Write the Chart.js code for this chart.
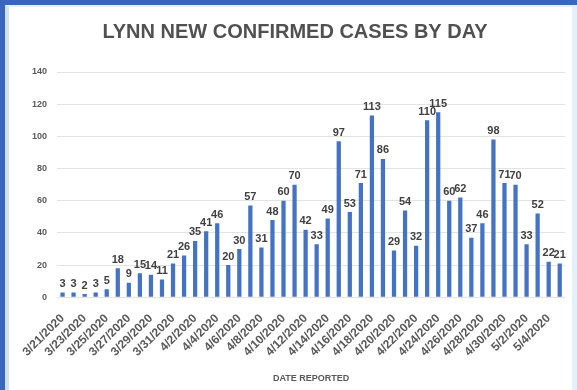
<!DOCTYPE html>
<html>
<head>
<meta charset="utf-8">
<script src="https://cdn.jsdelivr.net/npm/chart.js@4/dist/chart.umd.min.js"></script>
<style>
  html, body { margin: 0; padding: 0; background: #ffffff; }
  #frame {
    position: absolute; left: 0; top: 0; width: 577px; height: 390px;
    box-sizing: border-box;
    border-left: 5px solid #3b66c0;
    border-top: 5px solid #3b66c0;
    background: #ffffff;
  }
  #inner {
    position: absolute; left: 0; top: 0; right: 0; bottom: 0;
    border-left: 4px solid #cfe3f5;
    border-top: 2px solid #e4f0fa;
    border-right: 5px solid #e6f0fa;
  }
  #wrap { position: absolute; left: 4px; top: 2px; width: 563px; height: 383px; }
</style>
</head>
<body>
<div id="frame"><div id="inner"><div id="wrap"><canvas id="c"></canvas></div></div></div>
<script>
// Daily report dates, 3/21/2020 through 5/5/2020
const dates = [
  "3/21/2020","3/22/2020","3/23/2020","3/24/2020","3/25/2020","3/26/2020","3/27/2020",
  "3/28/2020","3/29/2020","3/30/2020","3/31/2020","4/1/2020","4/2/2020","4/3/2020",
  "4/4/2020","4/5/2020","4/6/2020","4/7/2020","4/8/2020","4/9/2020","4/10/2020",
  "4/11/2020","4/12/2020","4/13/2020","4/14/2020","4/15/2020","4/16/2020","4/17/2020",
  "4/18/2020","4/19/2020","4/20/2020","4/21/2020","4/22/2020","4/23/2020","4/24/2020",
  "4/25/2020","4/26/2020","4/27/2020","4/28/2020","4/29/2020","4/30/2020","5/1/2020",
  "5/2/2020","5/3/2020","5/4/2020","5/5/2020"
];

// New confirmed cases per day
const newCases = [
  3, 3, 2, 3, 5, 18, 9, 15, 14, 11, 21, 26, 35, 41, 46, 20, 30, 57, 31, 48, 60, 70, 42,
  33, 49, 97, 53, 71, 113, 86, 29, 54, 32, 110, 115, 60, 62, 37, 46, 98, 71, 70, 33, 52,
  22, 21
];

// Value axis ticks
const yTicks = [0, 20, 40, 60, 80, 100, 120, 140];

const textGray = "#595959";
const barBlue = "#4472c4";
const fontFamily = "'Liberation Sans', Arial, sans-serif";

// Writes each bar's value just above it
const valueLabels = {
  id: "valueLabels",
  afterDatasetsDraw(chart) {
    const ctx = chart.ctx;
    const meta = chart.getDatasetMeta(0);
    ctx.save();
    ctx.font = "bold 11px " + fontFamily;
    ctx.fillStyle = "#404040";
    ctx.textAlign = "center";
    ctx.textBaseline = "bottom";
    meta.data.forEach((bar, i) => {
      ctx.fillText(String(chart.data.datasets[0].data[i]), bar.x, bar.y - 3);
    });
    ctx.restore();
  }
};

new Chart(document.getElementById("c"), {
  type: "bar",
  data: {
    labels: dates,
    datasets: [{
      data: newCases,
      backgroundColor: barBlue,
      borderWidth: 0,
      barPercentage: 0.7,
      categoryPercentage: 0.55
    }]
  },
  options: {
    responsive: true,
    maintainAspectRatio: false,
    animation: false,
    layout: { padding: { left: 9, right: 8, top: 0, bottom: 8 } },
    plugins: {
      legend: { display: false },
      tooltip: { enabled: false },
      title: {
        display: true,
        text: "LYNN NEW CONFIRMED CASES BY DAY",
        color: "#505050",
        font: { family: fontFamily, size: 20, weight: "bold" },
        padding: { top: 11, bottom: 28 }
      }
    },
    scales: {
      x: {
        grid: { display: false },
        border: { display: false },
        title: {
          display: true,
          text: "DATE REPORTED",
          color: textGray,
          font: { family: fontFamily, size: 9, weight: "bold" },
          padding: { top: 8, bottom: 0 }
        },
        ticks: {
          autoSkip: false,
          maxRotation: 45,
          minRotation: 45,
          padding: 6,
          color: textGray,
          font: { family: fontFamily, size: 12, weight: "bold" },
          callback(value, index) { return index % 2 === 0 ? dates[index] : ""; }
        }
      },
      y: {
        min: 0,
        max: yTicks[yTicks.length - 1],
        afterBuildTicks(axis) { axis.ticks = yTicks.map(v => ({ value: v })); },
        grid: { color: "#e3e3e3", drawTicks: false },
        border: { display: false },
        ticks: {
          padding: 10,
          color: textGray,
          font: { family: fontFamily, size: 9, weight: "bold" }
        }
      }
    }
  },
  plugins: [valueLabels]
});
</script>
</body>
</html>
